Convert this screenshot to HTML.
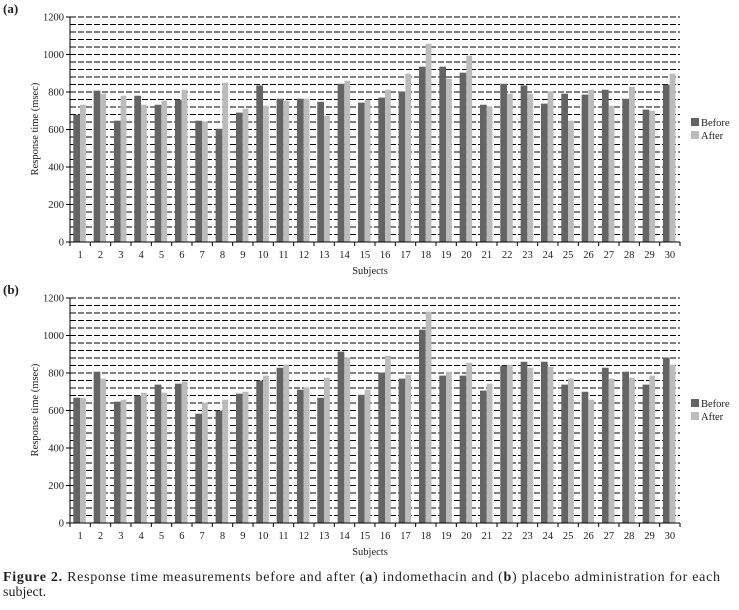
<!DOCTYPE html>
<html><head><meta charset="utf-8"><style>
body{margin:0;background:#fff;width:739px;height:605px;overflow:hidden;font-family:"Liberation Serif",serif;}
svg text{font-family:"Liberation Serif",serif;fill:#222;}
</style></head><body>
<svg id="s" width="739" height="605" xmlns="http://www.w3.org/2000/svg"></svg>
<script>
const A_b=[679,807,647,780,732,759,647,604,690,835,764,764,748,844,743,770,802,935,935,903,732,844,835,738,791,786,812,764,706,839];
const A_a=[732,791,780,732,754,812,642,850,711,727,754,764,674,860,759,812,898,1058,871,994,722,791,791,802,647,812,727,828,700,898];
const B_b=[668,807,647,679,738,743,583,599,690,759,828,711,668,914,684,802,770,1031,786,786,706,839,860,860,738,700,828,807,738,882];
const B_a=[668,770,658,695,695,754,642,658,700,786,844,722,775,882,711,892,791,1127,807,855,743,844,828,834,770,658,770,775,786,844];
let h='';
function panel(top,lab,bv,av){
  const x0=70,x1=680,y0=top+225,k=225/1200,w=(x1-x0)/30;
  h+=`<text x="3" y="${top-4}" font-size="13" font-weight="bold">${lab}</text>`;
  for(let v=0;v<=1200;v+=40){const y=y0-v*k;
    if(v>0)h+=`<line x1="${x0}" x2="${x1}" y1="${y}" y2="${y}" stroke="#000" stroke-width="1" stroke-dasharray="6,2"/>`;
    if(v%200==0){h+=`<line x1="${x0-4}" x2="${x0}" y1="${y}" y2="${y}" stroke="#000"/>`;
      h+=`<text x="${x0-6}" y="${y+3.5}" font-size="10.5" text-anchor="end">${v}</text>`;}}
  for(let i=0;i<30;i++){const cx=x0+i*w;
    const hb=bv[i]*k,ha=av[i]*k;
    h+=`<rect x="${cx+3.3}" y="${y0-hb}" width="6.7" height="${hb}" fill="#646464"/>`;
    h+=`<rect x="${cx+10}" y="${y0-ha}" width="5.8" height="${ha}" fill="#bcbcbc"/>`;
    h+=`<line x1="${cx+w}" x2="${cx+w}" y1="${y0}" y2="${y0+4}" stroke="#000"/>`;
    h+=`<text x="${cx+w/2}" y="${y0+16}" font-size="10.5" text-anchor="middle">${i+1}</text>`;}
  h+=`<line x1="${x0}" x2="${x0}" y1="${top}" y2="${y0+4}" stroke="#000"/>`;
  h+=`<line x1="${x0}" x2="${x1}" y1="${y0}" y2="${y0}" stroke="#000"/>`;
  h+=`<text x="370" y="${y0+32}" font-size="10.5" text-anchor="middle">Subjects</text>`;
  h+=`<text transform="translate(38,${top+112}) rotate(-90)" font-size="10.5" text-anchor="middle">Response time (msec)</text>`;
  const ly=top+101;
  h+=`<rect x="691" y="${ly}" width="8" height="8" fill="#646464"/><text x="701" y="${ly+8}" font-size="10.5">Before</text>`;
  h+=`<rect x="691" y="${ly+13}" width="8" height="8" fill="#bcbcbc"/><text x="701" y="${ly+21}" font-size="10.5">After</text>`;
}
panel(17,'(a)',A_b,A_a);
panel(298,'(b)',B_b,B_a);
h+=`<text x="3" y="581" font-size="14" textLength="717" lengthAdjust="spacing"><tspan font-weight="bold">Figure 2.</tspan> Response time measurements before and after (<tspan font-weight="bold">a</tspan>) indomethacin and (<tspan font-weight="bold">b</tspan>) placebo administration for each</text>`;
h+=`<text x="3" y="596" font-size="14">subject.</text>`;
document.getElementById('s').innerHTML=h;
</script>
</body></html>
